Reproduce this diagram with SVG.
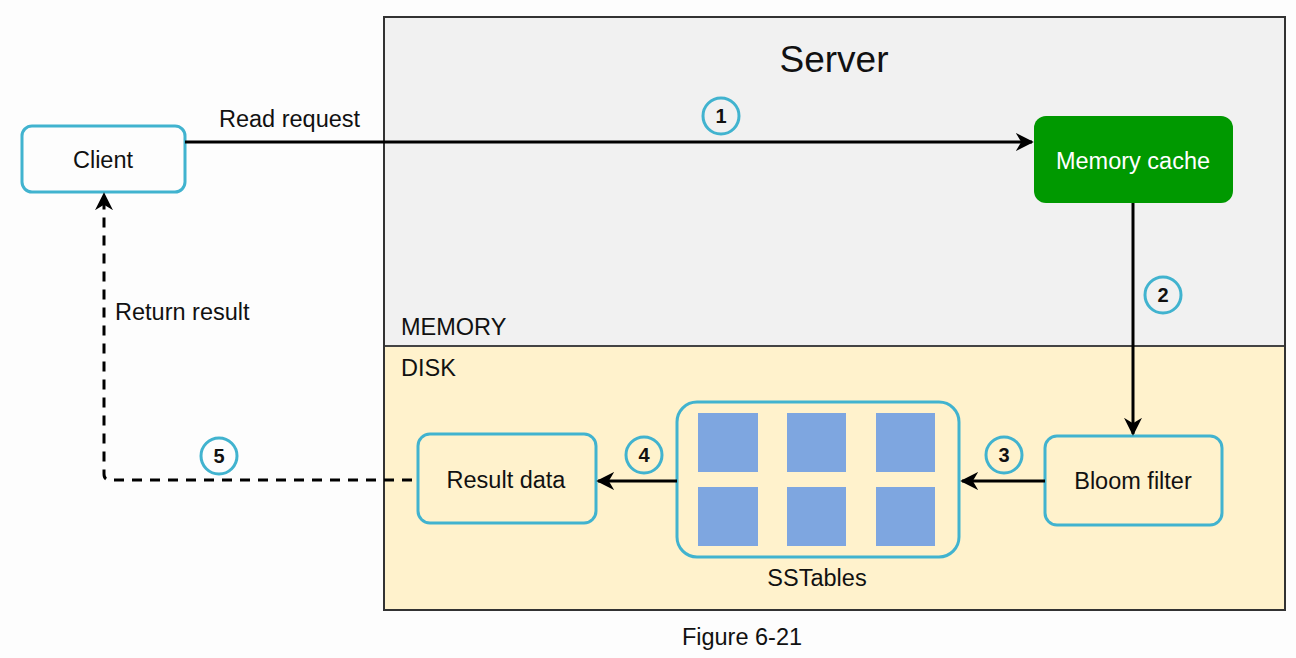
<svg xmlns="http://www.w3.org/2000/svg" width="1296" height="658" viewBox="0 0 1296 658">
<style>
text{font-family:"Liberation Sans",Arial,sans-serif;fill:#111}
.node{fill:none;stroke:#41b3cf;stroke-width:3}
.num{fill:none;stroke:#41b3cf;stroke-width:3}
.numt{font-size:20px;font-weight:bold;text-anchor:middle}
.lbl{font-size:23.5px}
.ctr{text-anchor:middle}
.edge{fill:none;stroke:#000;stroke-width:3}
.sq{fill:#7ea6e0}
</style>
<defs>
<marker id="arr" viewBox="0 0 10 10" refX="9" refY="5" markerWidth="6" markerHeight="6" orient="auto" markerUnits="strokeWidth">
<path d="M0,0 L10,5 L0,10 L3,5 Z" fill="#000"/>
</marker>
</defs>
<rect width="1296" height="658" fill="#fdfdfd"/>
<g id="server">
<rect x="384" y="17" width="901" height="329" fill="#f1f1f1"/>
<rect x="384" y="346" width="901" height="264" fill="#fff2cc"/>
<line x1="384" y1="346" x2="1285" y2="346" stroke="#444" stroke-width="2"/>
<rect x="384" y="17" width="901" height="593" fill="none" stroke="#333" stroke-width="2"/>
<text x="834" y="72" font-size="37" class="ctr">Server</text>
<text x="401" y="335" class="lbl">MEMORY</text>
<text x="401" y="376" class="lbl">DISK</text>
</g>
<g id="client">
<rect x="22" y="126" width="163" height="66" rx="10" class="node" fill="#fff"/>
<text x="103" y="168" class="lbl ctr">Client</text>
</g>
<g id="memory-cache">
<rect x="1034" y="116" width="199" height="87" rx="12" fill="#009900"/>
<text x="1133" y="169" class="lbl ctr" style="fill:#fff">Memory cache</text>
</g>
<g id="bloom-filter">
<rect x="1045" y="436" width="177" height="89" rx="12" class="node"/>
<text x="1133" y="489" class="lbl ctr">Bloom filter</text>
</g>
<g id="sstables">
<rect x="677" y="402" width="282" height="155" rx="20" class="node"/>
<rect x="698" y="413" width="60" height="59" class="sq"/>
<rect x="787" y="413" width="59" height="59" class="sq"/>
<rect x="876" y="413" width="59" height="59" class="sq"/>
<rect x="698" y="487" width="60" height="59" class="sq"/>
<rect x="787" y="487" width="59" height="59" class="sq"/>
<rect x="876" y="487" width="59" height="59" class="sq"/>
<text x="817" y="586" class="lbl ctr">SSTables</text>
</g>
<g id="result-data">
<rect x="418" y="434" width="178" height="89" rx="12" class="node"/>
<text x="506" y="488" class="lbl ctr">Result data</text>
</g>
<g id="connectors">
<path d="M185,142 L1032,142" class="edge" marker-end="url(#arr)"/>
<path d="M1133,203 L1133,434" class="edge" marker-end="url(#arr)"/>
<path d="M1045,481 L962,481" class="edge" marker-end="url(#arr)"/>
<path d="M677,481 L598,481" class="edge" marker-end="url(#arr)"/>
<path d="M412,480 L110,480 Q104,480 104,474 L104,194" class="edge" stroke-dasharray="10,8" marker-end="url(#arr)"/>
<text x="219" y="127" class="lbl">Read request</text>
<text x="115" y="320" class="lbl">Return result</text>
</g>
<g id="step-labels">
<circle cx="721" cy="116" r="18" class="num" fill="#f1f1f1"/>
<text x="721" y="123" class="numt">1</text>
<circle cx="1163" cy="295" r="18" class="num"/>
<text x="1163" y="302" class="numt">2</text>
<circle cx="1004" cy="455" r="18" class="num"/>
<text x="1004" y="462" class="numt">3</text>
<circle cx="644" cy="455" r="18" class="num"/>
<text x="644" y="462" class="numt">4</text>
<circle cx="219" cy="456" r="18" class="num"/>
<text x="219" y="463" class="numt">5</text>
</g>
<text x="742" y="645" font-size="23.5" class="ctr">Figure 6-21</text>
</svg>
